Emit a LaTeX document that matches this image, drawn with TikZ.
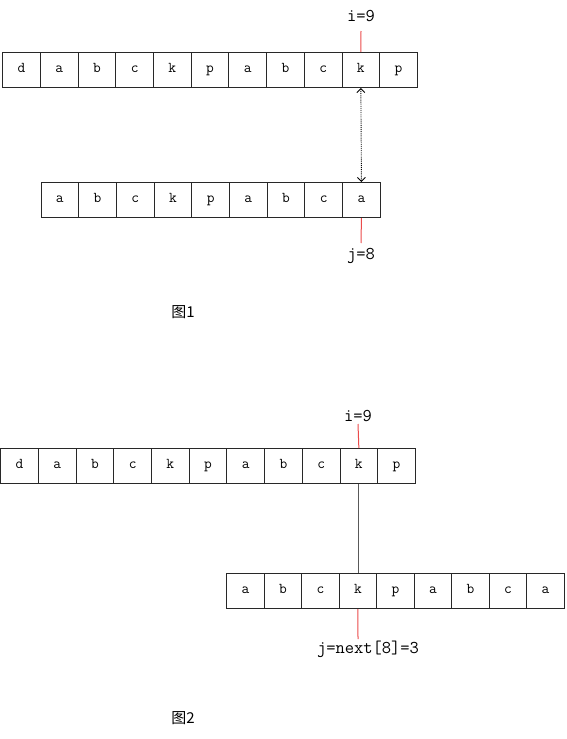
\documentclass[tikz,border=0pt]{standalone}
\usepackage{fontspec}
\newfontfamily\cjk{Noto Sans CJK SC}
\usetikzlibrary{arrows.meta, positioning}
\definecolor{ptrred}{RGB}{235,75,75}
\definecolor{cellline}{RGB}{40,40,40}
\tikzset{
  cell/.style={draw=cellline, line width=1pt, minimum width=37.7pt,
    minimum height=35pt, inner sep=0pt, text height=8pt, text depth=2.5pt,
    font=\ttfamily\fontsize{15}{15}\selectfont},
  ptr/.style={ptrred, line width=1pt},
  lbl/.style={font=\ttfamily\fontsize{18}{18}\selectfont, inner sep=1pt},
  figcap/.style={font=\cjk\fontsize{15}{15}\selectfont},
}

\begin{document}
\begin{tikzpicture}[x=1pt, y=-1pt]
\useasboundingbox (0,0) rectangle (567,739);
% 图1
\foreach \ch [count=\n] in {d,a,b,c,k,p,a,b,c,k,p}
    \node[cell] (ta\n) at ({2.7+37.7*(\n-0.5)}, 70) {\ch};
\foreach \ch [count=\n] in {a,b,c,k,p,a,b,c,a}
    \node[cell] (pa\n) at ({41+37.7*(\n-0.5)}, 200) {\ch};
\node[lbl] (ia) at (361,16) {i=9};
\coordinate (ia tip) at (361,31);
\draw[ptr] (ia tip) -- (ta10.north);
\draw[densely dotted, line width=0.9pt,
    {Straight Barb[length=4pt, width=8pt]}-{Straight Barb[length=4pt, width=8pt]}]
    (ta10.south) -- (pa9.north);
\coordinate (ja tip) at (361,243);
\draw[ptr] (pa9.south) -- (ja tip);
\node[lbl] (ja) at (361,256) {j=8};
\node[figcap] (cap1) at (183,312) {图1};
% 图2
\foreach \ch [count=\n] in {d,a,b,c,k,p,a,b,c,k,p}
    \node[cell] (tb\n) at ({0.7+37.7*(\n-0.5)}, 466) {\ch};
\foreach \ch [count=\n] in {a,b,c,k,p,a,b,c,a}
    \node[cell, minimum width=37.5pt] (pb\n) at ({226.7+37.5*(\n-0.5)}, 591) {\ch};
\node[lbl] (ib) at (358,416) {i=9};
\coordinate (ib tip) at (358,424);
\draw[ptr] (ib tip) -- (tb10.north);
\draw[gray!70!black, line width=1pt] (tb10.south) -- (tb10.south |- pb4.north);
\coordinate (jb tip) at (358,639);
\draw[ptr] (pb4.south) -- (jb tip);
\node[lbl] (jb) at (368,649) {j=next[8]=3};
\node[figcap] (cap2) at (183,718) {图2};
\end{tikzpicture}
\end{document}
